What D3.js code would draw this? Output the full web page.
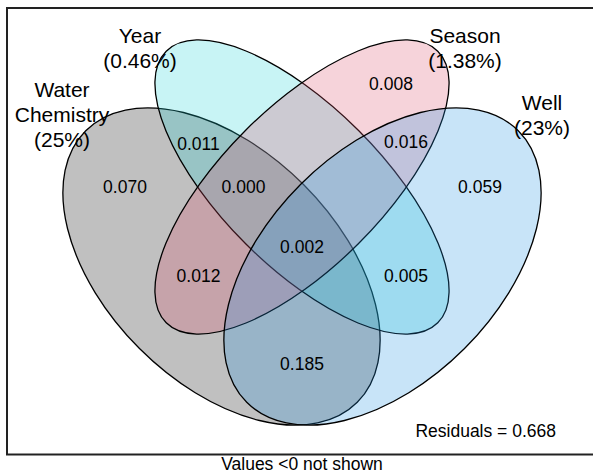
<!DOCTYPE html>
<html>
<head>
<meta charset="utf-8">
<script src="https://cdn.jsdelivr.net/npm/d3@7"></script>
<style>
  body { margin: 0; background: #fff; }
  text { font-family: "Liberation Sans", Arial, sans-serif; fill: #000; }
</style>
</head>
<body>
<svg id="chart"></svg>
<script>
const width = 593;
const height = 475;

// sets (drawn in this order)
const setNames = ['Water\nChemistry', 'Year', 'Season', 'Well'];
const setShares = ['25%', '0.46%', '1.38%', '23%'];
const setColors = ['#000000', '#20d2d7', '#db4d69', '#2092e3'];

// ellipses in plot units: centre, semi-axes, tilt (degrees, y up)
const ellCx = [-0.805, 0, 0, 0.805];
const ellCy = [-0.795, 0, 0, -0.795];
const ellA = [1.92, 1.92, 1.92, 1.92];
const ellB = [1.16, 0.80, 0.80, 1.16];
const ellTilt = [-45, -45, 45, 45];

// set label anchors (plot units)
const setLabX = [-2.4, -1.62, 1.63, 2.4];
const setLabY = [0.72, 1.39, 1.39, 0.72];

// fractions shown in each region
const regionValues = ['0.070', '0.011', '0.000', '0.008', '0.016', '0.059', '0.012', '0.002', '0.005', '0.185'];
const regionX = [-1.77, -1.035, -0.585, 0.89, 1.04, 1.78, -1.035, 0, 1.04, 0];
const regionY = [0, 0.43, 0, 1.03, 0.45, 0, -0.89, -0.6, -0.89, -1.77];

const residual = 0.668;
const cutoffNote = 'Values <0 not shown';

const x = d3.scaleLinear().domain([-3, 3]).range([2, 602]);
const y = d3.scaleLinear().domain([-3, 3]).range([487, -113]);
const len = v => x(v) - x(0);

const svg = d3.select('#chart')
  .attr('width', width)
  .attr('height', height);

// plot box
svg.append('rect')
  .attr('x', 7)
  .attr('y', 8)
  .attr('width', 600)
  .attr('height', 446.5)
  .attr('fill', 'none')
  .attr('stroke', '#222')
  .attr('stroke-width', 2);

svg.selectAll('ellipse')
  .data(d3.range(setNames.length))
  .enter()
  .append('ellipse')
    .attr('cx', i => x(ellCx[i]))
    .attr('cy', i => y(ellCy[i]))
    .attr('rx', i => len(ellA[i]))
    .attr('ry', i => len(ellB[i]))
    .attr('transform', i => `rotate(${-ellTilt[i]},${x(ellCx[i])},${y(ellCy[i])})`)
    .attr('fill', i => setColors[i])
    .attr('fill-opacity', 63 / 255)
    .attr('stroke', '#000')
    .attr('stroke-width', 1.3);

// region values
svg.selectAll('text.value')
  .data(regionValues)
  .enter()
  .append('text')
    .classed('value', true)
    .attr('x', (d, i) => x(regionX[i]))
    .attr('y', (d, i) => y(regionY[i]))
    .attr('dy', '0.35em')
    .attr('text-anchor', 'middle')
    .style('font-size', '17.5px')
    .text(d => d);

// set labels, centred on their anchor
setNames.forEach((name, i) => {
  const lines = name.split('\n').concat(`(${setShares[i]})`);
  const lh = 25;
  const top = y(setLabY[i]) - (lines.length - 1) * lh / 2;
  const t = svg.append('text')
    .attr('text-anchor', 'middle')
    .style('font-size', '21px');
  lines.forEach((ln, k) => {
    t.append('tspan')
      .attr('x', x(setLabX[i]))
      .attr('y', top + k * lh)
      .attr('dy', '0.35em')
      .text(ln);
  });
});

svg.append('text')
  .attr('x', 556)
  .attr('y', 437)
  .attr('text-anchor', 'end')
  .style('font-size', '17.5px')
  .text(`Residuals = ${residual}`);

svg.append('text')
  .attr('x', 302)
  .attr('y', 470)
  .attr('text-anchor', 'middle')
  .style('font-size', '17.5px')
  .text(cutoffNote);
</script>
</body>
</html>
